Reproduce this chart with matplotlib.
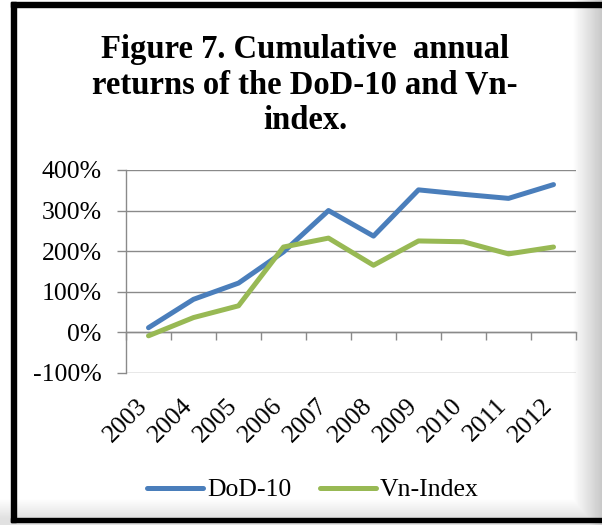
import matplotlib
matplotlib.use("Agg")
import matplotlib.pyplot as plt
import matplotlib.transforms as mtransforms
import numpy as np
from matplotlib.patches import Rectangle
from matplotlib.ticker import FixedLocator, FuncFormatter

years = ["2003", "2004", "2005", "2006", "2007", "2008", "2009", "2010", "2011", "2012"]
dod10 = [11, 81, 121, 198, 300, 237, 351, 340, 330, 364]
vnindex = [-9, 36, 65, 210, 232, 165, 225, 223, 193, 210]
yticks = [-100, 0, 100, 200, 300, 400]

plt.rcParams['font.family'] = ['Liberation Serif', 'DejaVu Serif']

W, H = 602, 525
fig = plt.figure(figsize=(W / 100, H / 100), dpi=100)

def fx(px):
    return px / W

def fy(py):
    return 1 - py / H

# frame / border with soft shading on right and bottom
bg = fig.add_axes([0, 0, 1, 1], zorder=-5)
bg.set_xlim(0, W)
bg.set_ylim(H, 0)
bg.axis('off')
xx = np.arange(W)[None, :]
yy = np.arange(H)[:, None]
shade_r = np.clip((xx - 572) / 30.0, 0, 1) * 0.22
shade_b = np.clip((yy - 498) / 20.0, 0, 1) * 0.12
img = 1.0 - np.maximum(shade_r, shade_b)
bg.imshow(img, cmap='gray', vmin=0, vmax=1, extent=[0, W, H, 0], aspect='auto',
          interpolation='bilinear', zorder=0)
bg.add_patch(Rectangle((11, 2), 5, 520, color='black', zorder=2))
bg.add_patch(Rectangle((11, 2), 591, 5, color='black', zorder=2))
bg.add_patch(Rectangle((11, 518), 591, 4, color='black', zorder=2))

ax = fig.add_axes([fx(126), fy(372.7), fx(576) - fx(126), fy(170) - fy(372.7)])
ax.set_facecolor('none')
x = np.arange(len(years)) + 0.5
ax.plot(x, dod10, color='#4A7EBB', lw=3.6, solid_capstyle='round', label='DoD-10', zorder=3)
ax.plot(x, vnindex, color='#98B954', lw=3.6, solid_capstyle='round', label='Vn-Index', zorder=3)

ax.set_xlim(0, len(years))
ax.set_ylim(-100, 400)
ax.yaxis.set_major_locator(FixedLocator(yticks))
ax.yaxis.set_major_formatter(FuncFormatter(lambda v, p: f"{int(v)}%"))
ax.grid(axis='y', color='#8a8a8a', lw=1.0)
ax.tick_params(axis='y', length=6.5, width=1, color='#8a8a8a', labelsize=18.5, pad=11)

for s in ['top', 'right']:
    ax.spines[s].set_visible(False)
ax.spines['left'].set_color('#8a8a8a')
ax.spines['left'].set_linewidth(1)
ax.spines['bottom'].set_position(('data', 0))
ax.spines['bottom'].set_color('#8a8a8a')
ax.spines['bottom'].set_linewidth(1)

ax.xaxis.set_major_locator(FixedLocator(np.arange(len(years) + 1)))
ax.xaxis.set_minor_locator(FixedLocator(x))
ax.xaxis.set_major_formatter(FuncFormatter(lambda v, p: ""))
ax.xaxis.set_minor_formatter(FuncFormatter(lambda v, p: years[int(v)] if 0 <= int(v) < len(years) else ""))
ax.tick_params(axis='x', which='major', direction='out', length=5.5, width=1, color='#8a8a8a')
ax.tick_params(axis='x', which='minor', length=0, pad=45, labelsize=18.5)
shift = mtransforms.ScaledTranslation(3 / 100, 0, fig.dpi_scale_trans)
for lab in ax.xaxis.get_minorticklabels():
    lab.set_rotation(45)
    lab.set_ha('right')
    lab.set_va('top')
    lab.set_transform(lab.get_transform() + shift)

fig.text(fx(305), fy(85), "Figure 7. Cumulative  annual\nreturns of the DoD-10 and Vn-\nindex.",
         ha='center', va='center', fontsize=23.5, fontweight='bold', linespacing=1.2)

fig.legend(loc='center', bbox_to_anchor=(fx(313), fy(490)), ncol=2, frameon=False,
           fontsize=18.5, handlelength=2.2, handletextpad=0.15, columnspacing=1.1)

fig.savefig("out.png", dpi=100)
